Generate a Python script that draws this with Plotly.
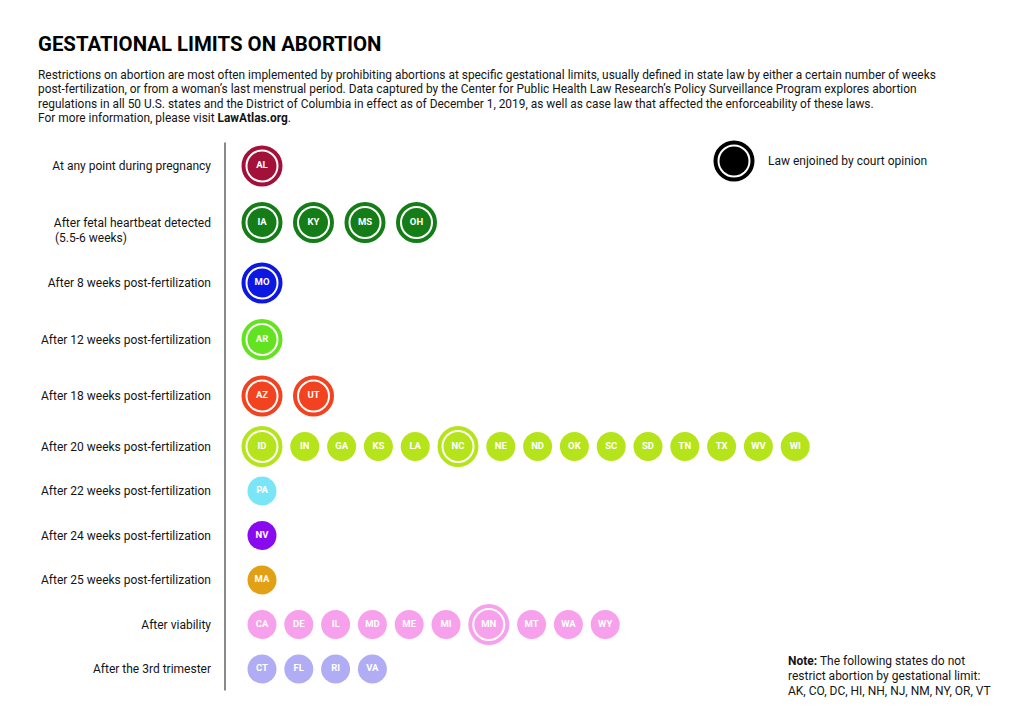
import plotly.graph_objects as go

# ---------------- data ----------------
row_labels = [
    "At any point during pregnancy",
    "After fetal heartbeat detected",
    "After 8 weeks post-fertilization",
    "After 12 weeks post-fertilization",
    "After 18 weeks post-fertilization",
    "After 20 weeks post-fertilization",
    "After 22 weeks post-fertilization",
    "After 24 weeks post-fertilization",
    "After 25 weeks post-fertilization",
    "After viability",
    "After the 3rd trimester",
]
row_sublabel = {1: "(5.5-6 weeks)"}
row_states = [
    ["AL"],
    ["IA", "KY", "MS", "OH"],
    ["MO"],
    ["AR"],
    ["AZ", "UT"],
    ["ID", "IN", "GA", "KS", "LA", "NC", "NE", "ND", "OK", "SC", "SD", "TN", "TX", "WV", "WI"],
    ["PA"],
    ["NV"],
    ["MA"],
    ["CA", "DE", "IL", "MD", "ME", "MI", "MN", "MT", "WA", "WY"],
    ["CT", "FL", "RI", "VA"],
]
enjoined = ["AL", "IA", "KY", "MS", "OH", "MO", "AR", "AZ", "UT", "ID", "NC", "MN"]
row_colors = [
    "#A3113B", "#157D17", "#0C17E2", "#63E21F", "#F2421F", "#B6E41B",
    "#7AE5F6", "#8A0AF0", "#E2A014", "#F7A1EC", "#B1ADF5",
]
title = "GESTATIONAL LIMITS ON ABORTION"
intro_lines = [
    "Restrictions on abortion are most often implemented by prohibiting abortions at specific gestational limits, usually defined in state law by either a certain number of weeks",
    "post-fertilization, or from a woman\u2019s last menstrual period. Data captured by the Center for Public Health Law Research\u2019s Policy Surveillance Program explores abortion",
    "regulations in all 50 U.S. states and the District of Columbia in effect as of December 1, 2019, as well as case law that affected the enforceability of these laws.",
    "For more information, please visit <b>LawAtlas.org</b>.",
]
legend_text = "Law enjoined by court opinion"
note_lines = [
    "<b>Note:</b> The following states do not",
    "restrict abortion by gestational limit:",
    "AK, CO, DC, HI, NH, NJ, NM, NY, OR, VT",
]

# ---------------- layout constants ----------------
W, H = 1024, 718
FONT = "Roboto"
TEXT_COLOR = "#141414"
AXIS_X = 225
FIRST_Y = 166
FIRST_X = 262
INNER_D = 29
RING_D = 37
RING_W = 4
HALF_RING = (RING_D + RING_W) / 2
HALF_PLAIN = INNER_D / 2
VGAP = 15.5
SUBLABEL_EXTRA = 4
HGAP = 7.8
HGAP_RINGS = 10.5

# row centres from circle sizes (rows where every state is ringed are taller)
row_full_ring = [all(s in enjoined for s in r) for r in row_states]
row_y = [FIRST_Y]
for i in range(1, len(row_states)):
    h_prev = HALF_RING if row_full_ring[i - 1] else HALF_PLAIN
    h_cur = HALF_RING if row_full_ring[i] else HALF_PLAIN
    extra = SUBLABEL_EXTRA if (i - 1) in row_sublabel else 0
    row_y.append(row_y[-1] + h_prev + VGAP + h_cur + extra)

fig = go.Figure()

for i, states in enumerate(row_states):
    xs, ys, ring_x, ring_y = [], [], [], []
    x = FIRST_X
    prev = None
    for s in states:
        ringed = s in enjoined
        half = HALF_RING if ringed else HALF_PLAIN
        if prev is not None:
            prev_ringed, prev_half = prev
            gap = HGAP_RINGS if (ringed and prev_ringed) else HGAP
            x = x + prev_half + gap + half
        xs.append(x)
        ys.append(row_y[i])
        if ringed:
            ring_x.append(x)
            ring_y.append(row_y[i])
        prev = (ringed, half)
    if ring_x:
        fig.add_trace(go.Scatter(
            x=ring_x, y=ring_y, mode="markers", hoverinfo="skip",
            marker=dict(symbol="circle-open", size=RING_D, color=row_colors[i],
                        line=dict(width=RING_W, color=row_colors[i])),
        ))
    fig.add_trace(go.Scatter(
        x=xs, y=ys, mode="markers+text", text=states, hoverinfo="skip",
        textposition="middle center",
        textfont=dict(family=FONT, size=9.5, color="white", weight="bold"),
        marker=dict(symbol="circle", size=INNER_D, color=row_colors[i], line=dict(width=0)),
    ))

# legend symbol
LEG_X, LEG_Y = 734, 161
fig.add_trace(go.Scatter(
    x=[LEG_X], y=[LEG_Y], mode="markers", hoverinfo="skip",
    marker=dict(symbol="circle-open", size=RING_D, color="black", line=dict(width=RING_W, color="black")),
))
fig.add_trace(go.Scatter(
    x=[LEG_X], y=[LEG_Y], mode="markers", hoverinfo="skip",
    marker=dict(symbol="circle", size=INNER_D, color="black", line=dict(width=0)),
))

annotations = []
annotations.append(dict(x=36, y=44, xref="x", yref="y", text="<b>" + title + "</b>",
                        showarrow=False, xanchor="left", yanchor="middle",
                        font=dict(family=FONT, size=20.4, color="black")))
for k, line in enumerate(intro_lines):
    annotations.append(dict(x=36, y=74.5 + k * 14.6, xref="x", yref="y", text=line,
                            showarrow=False, xanchor="left", yanchor="middle",
                            font=dict(family=FONT, size=11.9, color=TEXT_COLOR)))
annotations.append(dict(x=766, y=LEG_Y, xref="x", yref="y", text=legend_text,
                        showarrow=False, xanchor="left", yanchor="middle",
                        font=dict(family=FONT, size=12, color=TEXT_COLOR)))
for k, line in enumerate(note_lines):
    annotations.append(dict(x=786, y=661 + k * 15, xref="x", yref="y", text=line,
                            showarrow=False, xanchor="left", yanchor="middle",
                            font=dict(family=FONT, size=12, color=TEXT_COLOR)))
for i, sub in row_sublabel.items():
    annotations.append(dict(x=53, y=row_y[i] + 15, xref="x", yref="y", text=sub,
                            showarrow=False, xanchor="left", yanchor="middle",
                            font=dict(family=FONT, size=12, color=TEXT_COLOR)))

line_top = row_y[0] - HALF_RING - 3
line_bot = row_y[-1] + HALF_PLAIN + 7

fig.update_layout(
    template="none",
    width=W, height=H,
    margin=dict(l=0, r=0, t=0, b=0),
    paper_bgcolor="white", plot_bgcolor="white",
    showlegend=False,
    annotations=annotations,
    shapes=[dict(type="line", xref="x", yref="y", x0=AXIS_X, x1=AXIS_X,
                 y0=line_top, y1=line_bot, line=dict(color="#4a4a4a", width=1.3))],
    xaxis=dict(range=[0, W], domain=[0, 1], visible=False, fixedrange=True),
    yaxis=dict(range=[H, 0], domain=[0, 1], anchor="free", position=AXIS_X / W,
               tickvals=row_y, ticktext=row_labels, ticks="", ticklabelstandoff=14,
               showgrid=False, zeroline=False, showline=False, automargin=False,
               tickfont=dict(family=FONT, size=12, color=TEXT_COLOR), fixedrange=True),
)

fig.write_html("out.html", config={"displayModeBar": False})
